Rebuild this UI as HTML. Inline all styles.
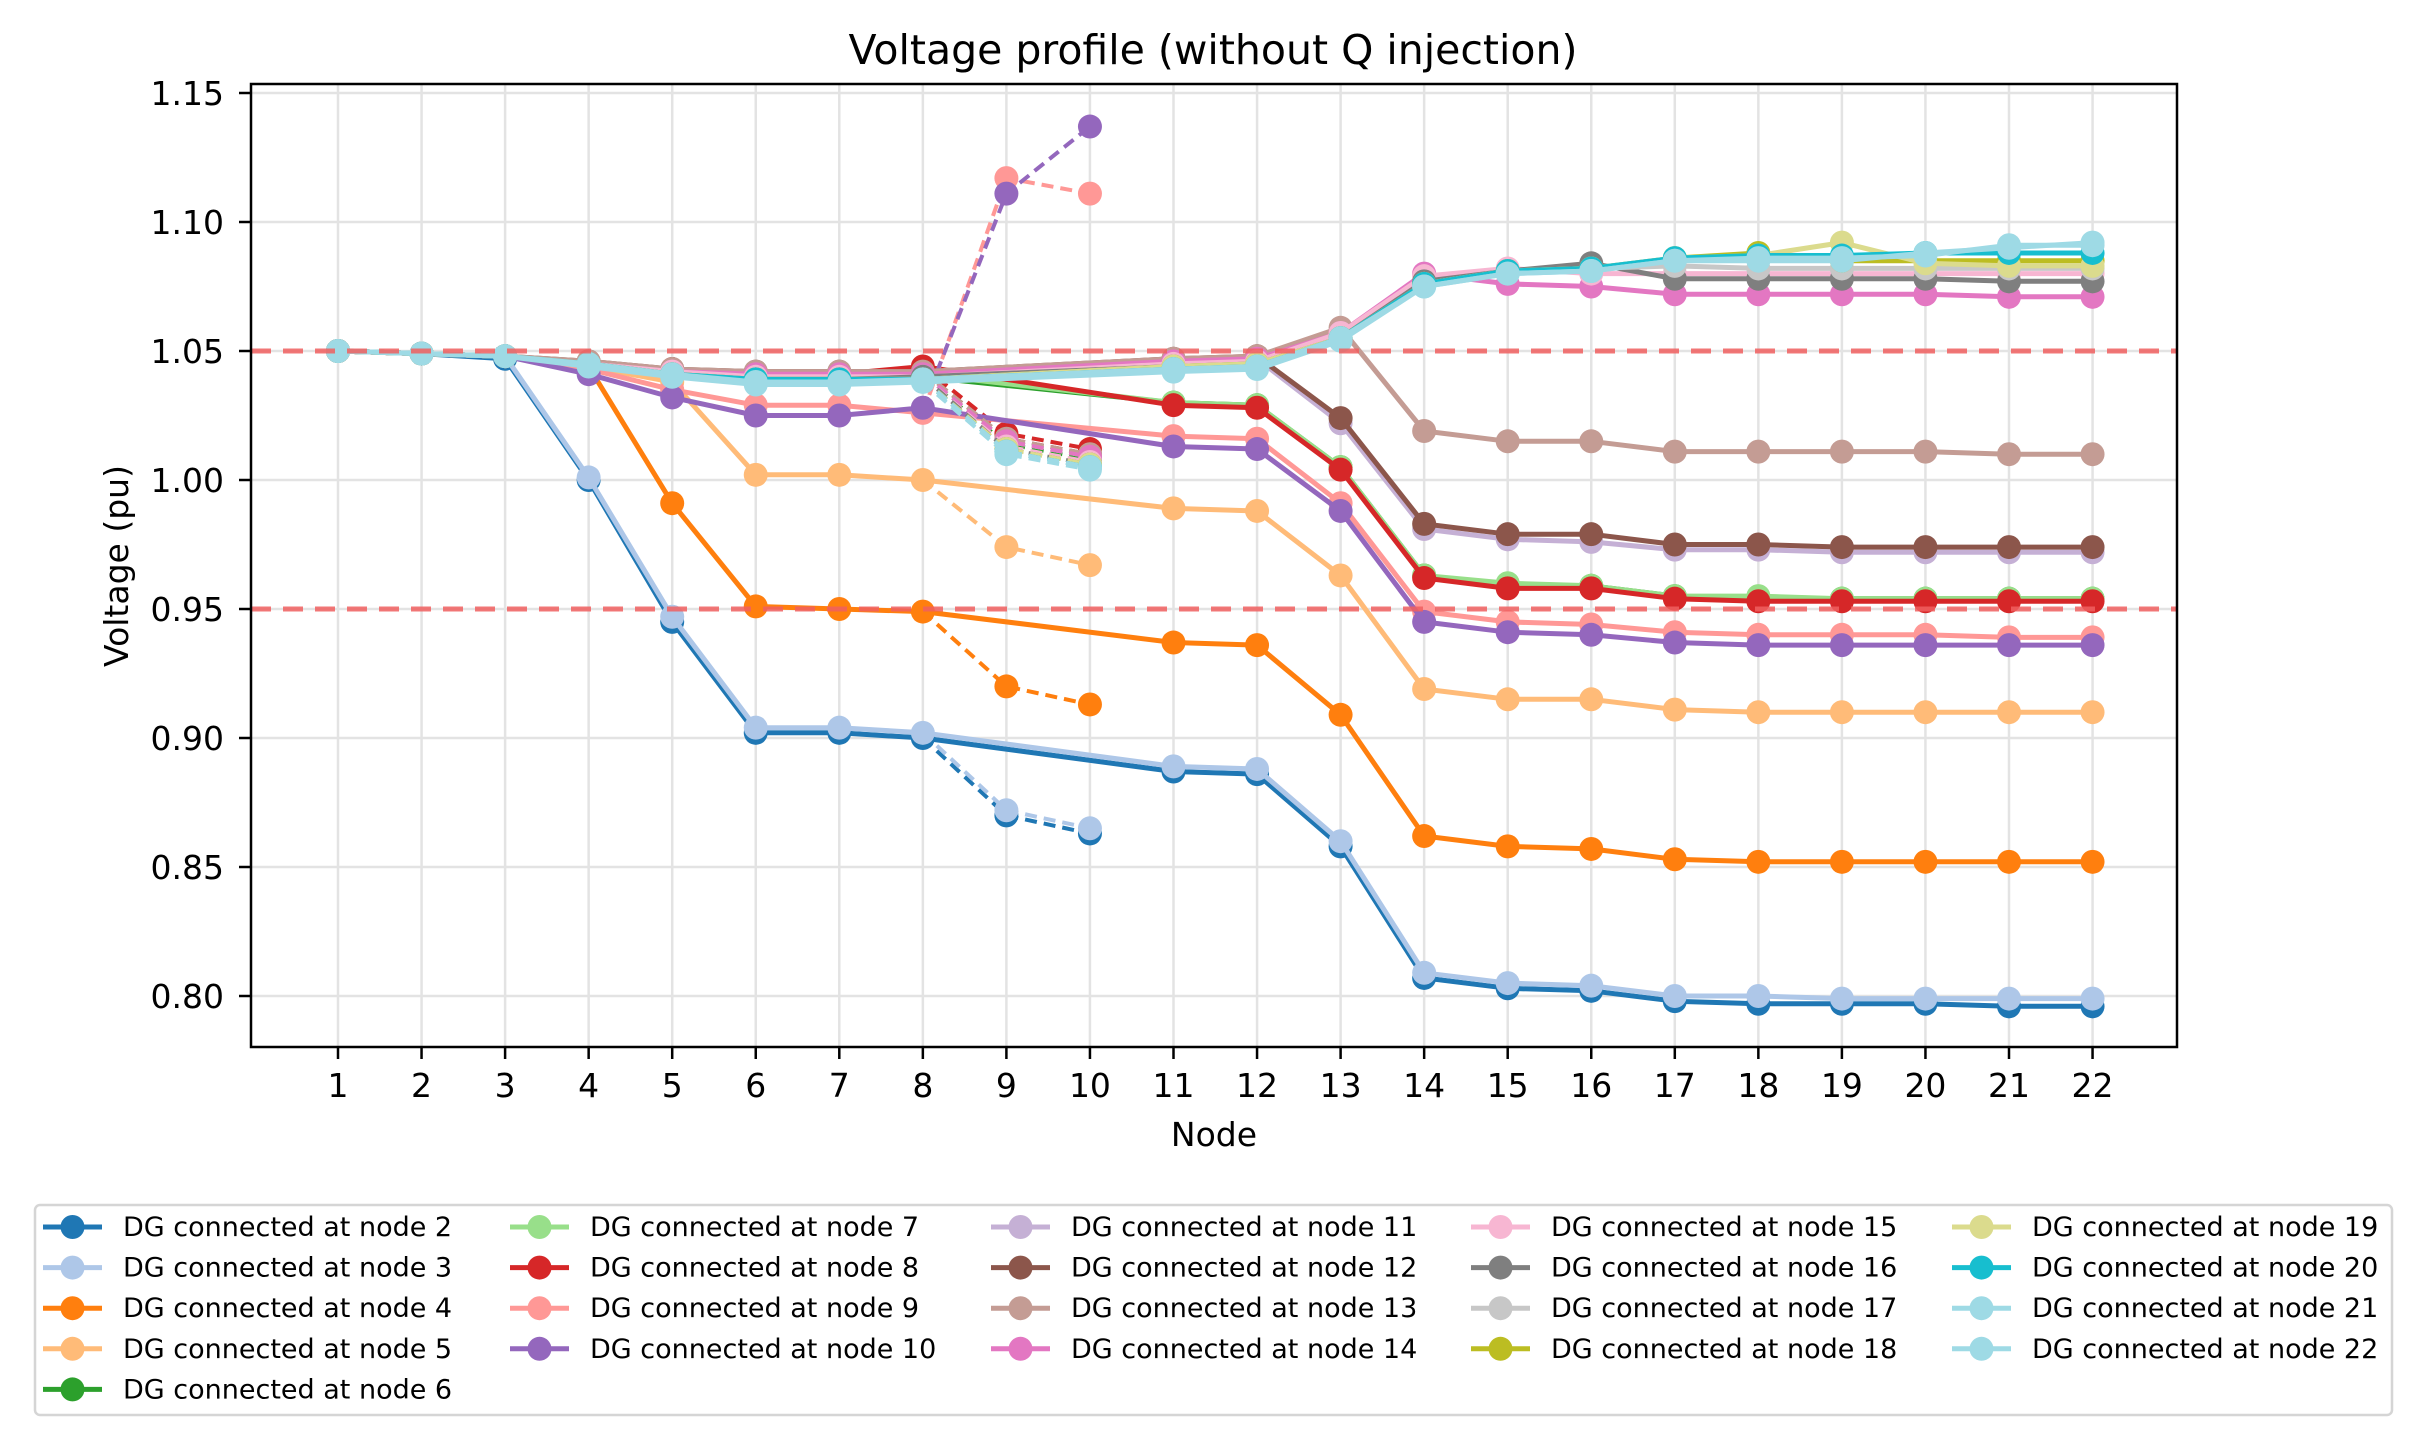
<!DOCTYPE html>
<html><head><meta charset="utf-8"><style>
html,body{margin:0;padding:0;background:#fff;}
svg{display:block;font-family:"DejaVu Sans","Liberation Sans",sans-serif;}
</style></head><body>
<svg id="chart" width="2421" height="1452" viewBox="0 0 2421 1452" xmlns="http://www.w3.org/2000/svg">
<rect width="2421" height="1452" fill="#fff"/>
<text x="1213" y="64" font-size="41" text-anchor="middle">Voltage profile (without Q injection)</text>
<g id="grid"></g>
<g id="limits"></g>
<g id="series"></g>
<rect x="251" y="84" width="1926" height="963" fill="none" stroke="#000" stroke-width="2.5"/>
<g id="axes"></g>
<text x="1214" y="1146" font-size="33" text-anchor="middle">Node</text>
<text x="0" y="0" font-size="33" text-anchor="middle" transform="translate(128,566) rotate(-90)">Voltage (pu)</text>
<g id="legend"></g>
</svg>
<script>
const nodes = [1,2,3,4,5,6,7,8,9,10,11,12,13,14,15,16,17,18,19,20,21,22];
const yTicks = [0.80,0.85,0.90,0.95,1.00,1.05,1.10,1.15];
const yTickLabels = ["0.80","0.85","0.90","0.95","1.00","1.05","1.10","1.15"];
const limitValues = [1.05,0.95];
const seriesNames = ["DG connected at node 2","DG connected at node 3","DG connected at node 4","DG connected at node 5","DG connected at node 6","DG connected at node 7","DG connected at node 8","DG connected at node 9","DG connected at node 10","DG connected at node 11","DG connected at node 12","DG connected at node 13","DG connected at node 14","DG connected at node 15","DG connected at node 16","DG connected at node 17","DG connected at node 18","DG connected at node 19","DG connected at node 20","DG connected at node 21","DG connected at node 22"];
const seriesColors = ["#1f77b4","#aec7e8","#ff7f0e","#ffbb78","#2ca02c","#98df8a","#d62728","#ff9896","#9467bd","#c5b0d5","#8c564b","#c49c94","#e377c2","#f7b6d2","#7f7f7f","#c7c7c7","#bcbd22","#dbdb8d","#17becf","#9edae5","#9edae5"];
const dg2  = [1.05,1.049,1.047,1.000,0.945,0.902,0.902,0.900,0.870,0.863,0.887,0.886,0.858,0.807,0.803,0.802,0.798,0.797,0.797,0.797,0.796,0.796];
const dg3  = [1.05,1.049,1.048,1.001,0.947,0.904,0.904,0.902,0.872,0.865,0.889,0.888,0.860,0.809,0.805,0.804,0.800,0.800,0.799,0.799,0.799,0.799];
const dg4  = [1.05,1.049,1.048,1.044,0.991,0.951,0.950,0.949,0.920,0.913,0.937,0.936,0.909,0.862,0.858,0.857,0.853,0.852,0.852,0.852,0.852,0.852];
const dg5  = [1.05,1.049,1.048,1.044,1.038,1.002,1.002,1.000,0.974,0.967,0.989,0.988,0.963,0.919,0.915,0.915,0.911,0.910,0.910,0.910,0.910,0.910];
const dg6  = [1.05,1.049,1.048,1.045,1.042,1.040,1.040,1.040,1.014,1.008,1.030,1.029,1.005,0.963,0.959,0.959,0.955,0.954,0.954,0.954,0.954,0.954];
const dg7  = [1.05,1.049,1.048,1.045,1.042,1.040,1.040,1.041,1.015,1.009,1.030,1.029,1.005,0.963,0.960,0.959,0.955,0.955,0.954,0.954,0.954,0.954];
const dg8  = [1.05,1.049,1.048,1.045,1.043,1.041,1.041,1.044,1.018,1.012,1.029,1.028,1.004,0.962,0.958,0.958,0.954,0.953,0.953,0.953,0.953,0.953];
const dg9  = [1.05,1.049,1.048,1.043,1.035,1.029,1.029,1.026,1.117,1.111,1.017,1.016,0.991,0.949,0.945,0.944,0.941,0.940,0.940,0.940,0.939,0.939];
const dg10 = [1.05,1.049,1.048,1.041,1.032,1.025,1.025,1.028,1.111,1.137,1.013,1.012,0.988,0.945,0.941,0.940,0.937,0.936,0.936,0.936,0.936,0.936];
const dg11 = [1.05,1.049,1.048,1.045,1.042,1.040,1.040,1.041,1.015,1.009,1.046,1.047,1.022,0.981,0.977,0.976,0.973,0.973,0.972,0.972,0.972,0.972];
const dg12 = [1.05,1.049,1.048,1.046,1.043,1.042,1.042,1.042,1.016,1.010,1.047,1.048,1.024,0.983,0.979,0.979,0.975,0.975,0.974,0.974,0.974,0.974];
const dg13 = [1.05,1.049,1.048,1.046,1.043,1.042,1.042,1.042,1.016,1.010,1.047,1.048,1.059,1.019,1.015,1.015,1.011,1.011,1.011,1.011,1.010,1.010];
const dg14 = [1.05,1.049,1.048,1.045,1.042,1.041,1.041,1.041,1.015,1.009,1.046,1.047,1.057,1.080,1.076,1.075,1.072,1.072,1.072,1.072,1.071,1.071];
const dg15 = [1.05,1.049,1.048,1.045,1.042,1.040,1.040,1.040,1.013,1.007,1.045,1.046,1.057,1.079,1.082,1.080,1.080,1.080,1.080,1.080,1.080,1.080];
const dg16 = [1.05,1.049,1.048,1.045,1.041,1.039,1.039,1.040,1.012,1.006,1.044,1.045,1.055,1.077,1.081,1.084,1.078,1.078,1.078,1.078,1.077,1.077];
const dg17 = [1.05,1.049,1.048,1.045,1.041,1.039,1.039,1.039,1.012,1.006,1.044,1.045,1.055,1.076,1.081,1.082,1.083,1.082,1.082,1.082,1.082,1.082];
const dg18 = [1.05,1.049,1.048,1.045,1.041,1.039,1.039,1.039,1.012,1.006,1.044,1.045,1.055,1.076,1.081,1.082,1.086,1.088,1.085,1.085,1.085,1.085];
const dg19 = [1.05,1.049,1.048,1.045,1.041,1.039,1.039,1.039,1.012,1.006,1.044,1.045,1.055,1.076,1.081,1.082,1.086,1.087,1.092,1.084,1.083,1.083];
const dg20 = [1.05,1.049,1.048,1.045,1.041,1.039,1.039,1.039,1.011,1.005,1.043,1.044,1.055,1.076,1.081,1.082,1.086,1.087,1.087,1.088,1.088,1.088];
const dg21 = [1.05,1.049,1.048,1.045,1.041,1.038,1.038,1.039,1.011,1.005,1.043,1.044,1.055,1.075,1.080,1.081,1.085,1.086,1.086,1.087,1.091,1.091];
const dg22 = [1.05,1.049,1.048,1.044,1.040,1.037,1.037,1.038,1.010,1.004,1.042,1.043,1.054,1.075,1.080,1.081,1.085,1.085,1.085,1.088,1.090,1.092];
const seriesValues = [dg2,dg3,dg4,dg5,dg6,dg7,dg8,dg9,dg10,dg11,dg12,dg13,dg14,dg15,dg16,dg17,dg18,dg19,dg20,dg21,dg22];
const mainPath = [1,2,3,4,5,6,7,8,11,12,13,14,15,16,17,18,19,20,21,22];
const branchPath = [8,9,10];

const NS = "http://www.w3.org/2000/svg";
const L = 251, R = 2177, T = 84, B = 1047;
function xScale(n){ return 338 + (n - 1) * 83.55; }
function yScale(v){ return 93 + (1.15 - v) / 0.05 * 129; }
function mk(tag, attrs, parent){
  const e = document.createElementNS(NS, tag);
  for (const k in attrs) e.setAttribute(k, attrs[k]);
  parent.appendChild(e);
  return e;
}
const grid = document.getElementById('grid');
const axes = document.getElementById('axes');
nodes.forEach(n => {
  const x = xScale(n);
  const g = mk('line', {x1:x, x2:x, y1:T, y2:B, stroke:'#e3e3e3', 'stroke-width':2.5}, grid);
  
  
  const t = mk('line', {x1:x, x2:x, y1:B, y2:B+12, stroke:'#000', 'stroke-width':2.5}, axes);
  
  
  const lb = mk('text', {x:x, y:1097, 'font-size':33, 'text-anchor':'middle'}, axes);
  lb.textContent = n;
  
  
});
yTicks.forEach((v, i) => {
  const y = yScale(v);
  const g = mk('line', {x1:L, x2:R, y1:y, y2:y, stroke:'#e3e3e3', 'stroke-width':2.5}, grid);
  
  
  const t = mk('line', {x1:L-12, x2:L, y1:y, y2:y, stroke:'#000', 'stroke-width':2.5}, axes);
  
  
  const lb = mk('text', {x:224, y:y+12, 'font-size':33, 'text-anchor':'end'}, axes);
  lb.textContent = yTickLabels[i];
  
  
});
const sg = document.getElementById('series');
seriesValues.forEach((vals, si) => {
  const c = seriesColors[si];
  const grp = mk('g', {}, sg);
  
  
  const mp = mainPath.map(n => xScale(n).toFixed(1) + ',' + yScale(vals[n-1]).toFixed(1)).join(' ');
  const l1 = mk('polyline', {points:mp, fill:'none', stroke:c, 'stroke-width':5, 'stroke-linejoin':'round'}, grp);
  
  
  const bp = branchPath.map(n => xScale(n).toFixed(1) + ',' + yScale(vals[n-1]).toFixed(1)).join(' ');
  const l2 = mk('polyline', {points:bp, fill:'none', stroke:c, 'stroke-width':4, 'stroke-dasharray':'12,7'}, grp);
  
  
  nodes.forEach(n => {
    const m = mk('circle', {cx:xScale(n), cy:yScale(vals[n-1]), r:12, fill:c}, grp);
    
    
  });
});
limitValues.forEach(v => {
  const y = yScale(v);
  const l = mk('line', {x1:L, x2:R, y1:y, y2:y, stroke:'#f06060', 'stroke-width':5, 'stroke-dasharray':'20,12', opacity:0.85}, sg);
  
  
});
const lg = document.getElementById('legend');
const box = mk('rect', {x:35, y:1205, width:2357, height:210, rx:5, fill:'#fff', stroke:'#d5d5d5', 'stroke-width':2.5}, lg);


const colX = [43, 510, 991, 1471, 1952];
seriesNames.forEach((name, i) => {
  let c, r;
  if (i < 5) { c = 0; r = i; } else { c = 1 + Math.floor((i - 5) / 4); r = (i - 5) % 4; }
  const x = colX[c], y = 1227 + r * 40.6;
  const e = mk('g', {}, lg);
  
  
  mk('line', {x1:x, x2:x+59, y1:y, y2:y, stroke:seriesColors[i], 'stroke-width':5}, e);
  mk('circle', {cx:x+29.5, cy:y, r:12, fill:seriesColors[i]}, e);
  const t = mk('text', {x:x+80, y:y+9, 'font-size':27}, e);
  t.textContent = name;
});
</script>
</body></html>
